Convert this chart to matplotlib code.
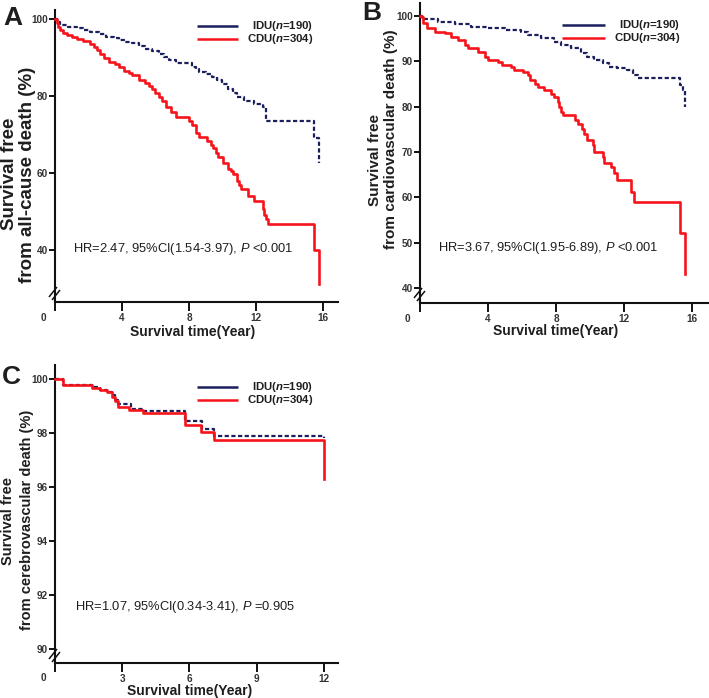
import matplotlib
matplotlib.use("Agg")
import matplotlib.pyplot as plt
from matplotlib.lines import Line2D

plt.rcParams['font.family'] = ['Liberation Sans', 'DejaVu Sans']
plt.rcParams['mathtext.fontset'] = 'custom'
plt.rcParams['mathtext.rm'] = 'Liberation Sans'
plt.rcParams['mathtext.it'] = 'Liberation Sans:italic'
plt.rcParams['mathtext.bf'] = 'Liberation Sans:bold'
plt.rcParams['mathtext.bfit'] = 'Liberation Sans:italic:bold'

# ---------------- data (Kaplan-Meier step curves) ----------------
# Panel A: all-cause death
A_idu_t = [0, 0.1, 0.3, 0.8, 1.3, 1.7, 2.1, 2.6, 3.05, 3.5, 3.85, 4.2, 4.6, 5.0, 5.4, 5.8,
           6.2, 6.5, 6.8, 7.2, 8.2, 8.4, 8.6, 9.0, 9.4, 9.7, 9.95, 10.35, 10.6, 10.85, 11.3,
           11.9, 12.4, 12.6, 15.45, 15.75]
A_idu_s = [100, 99.3, 98.4, 98.0, 97.6, 97.2, 96.7, 96.1, 95.4, 95.0, 94.5, 94.1, 93.7, 93.0,
           92.3, 91.7, 91.0, 90.2, 89.3, 88.6, 87.6, 86.9, 86.3, 85.7, 85.0, 84.1, 83.2, 81.9,
           80.8, 79.7, 78.8, 78.0, 77.1, 73.6, 69.1, 62.5]
A_cdu_t = [0, 0.1, 0.2, 0.3, 0.5, 0.7, 1.0, 1.3, 1.7, 2.1, 2.3, 2.5, 2.7, 2.9, 3.25, 3.6, 3.85,
           4.1, 4.4, 4.6, 5.0, 5.4, 5.6, 5.8, 6.0, 6.2, 6.4, 6.6, 6.9, 7.2, 8.0, 8.2, 8.4, 8.6,
           9.1, 9.3, 9.45, 9.6, 9.75, 10.05, 10.35, 10.5, 10.65, 10.85, 11.0, 11.1, 11.5, 11.9,
           12.4, 12.5, 12.6, 12.7, 15.45, 15.75]
A_cdu_s = [100, 99, 98, 97, 96.3, 95.7, 95.2, 94.8, 94.3, 93.5, 92.7, 91.8, 90.8, 89.8, 88.9,
           88.2, 87.6, 86.5, 85.9, 85.3, 84.2, 83.3, 82.6, 81.7, 80.8, 79.8, 78.6, 77.2, 75.9,
           74.6, 73.6, 72.5, 70.4, 69.3, 68.2, 67.3, 66.4, 65.3, 64.2, 62.7, 61.1, 60.4, 59.6,
           58.0, 56.8, 55.8, 54.1, 52.6, 50.6, 49.2, 48.0, 46.8, 40.0, 31.2]

# Panel B: cardiovascular death
B_idu_t = [0, 0.1, 1.07, 2.05, 3.0, 4.0, 5.0, 5.95, 6.35, 7.1, 7.9, 8.3, 8.9, 9.45, 9.85,
           10.25, 10.75, 11.1, 11.6, 12.2, 12.5, 12.8, 15.3, 15.45, 15.6]
B_idu_s = [100, 99.3, 98.8, 98.2, 97.6, 97.3, 96.9, 96.5, 95.8, 95.1, 94.3, 93.6, 92.9, 91.9,
           91.0, 90.3, 89.6, 88.8, 88.5, 88.1, 87.0, 86.3, 84.8, 83.7, 80.0]
B_cdu_t = [0, 0.1, 0.2, 0.4, 0.9, 1.45, 1.85, 2.25, 2.65, 2.85, 3.4, 3.8, 4.0, 4.6, 4.8, 5.35,
           5.55, 6.05, 6.35, 6.45, 6.75, 6.95, 7.3, 7.7, 7.9, 8.1, 8.2, 8.3, 8.4, 9.1, 9.3, 9.5,
           9.65, 9.85, 10.15, 10.25, 10.75, 10.85, 11.25, 11.4, 11.6, 12.4, 12.6, 15.3, 15.6]
B_cdu_s = [100, 99.9, 98.4, 97.3, 96.5, 96.2, 95.4, 94.7, 93.6, 92.9, 92.1, 91.0, 90.3, 89.9,
           89.2, 88.8, 88.1, 87.7, 87.0, 85.9, 85.1, 84.4, 83.7, 82.9, 82.2, 81.1, 80.0, 78.9,
           78.2, 77.1, 76.3, 75.2, 74.1, 72.6, 71.5, 70.0, 69.0, 67.5, 66.8, 65.3, 63.8, 61.2,
           59.0, 52.1, 43.2]

# Panel C: cerebrovascular death
C_idu_t = [0, 0.37, 1.64, 2.01, 2.31, 2.53, 2.68, 2.83, 3.37, 3.92, 5.81, 6.56, 7.08, 12.0]
C_idu_s = [100, 99.78, 99.69, 99.6, 99.53, 99.41, 99.23, 99.08, 98.9, 98.82, 98.43, 98.15,
           97.9, 97.82]
C_cdu_t = [0, 0.37, 1.64, 2.01, 2.31, 2.53, 2.68, 2.83, 3.32, 3.92, 5.81, 6.53, 7.08, 12.0]
C_cdu_s = [100, 99.78, 99.66, 99.6, 99.51, 99.35, 99.2, 98.96, 98.86, 98.74, 98.28, 98.02,
           97.75, 96.28]

A_xticks = [0, 4, 8, 12, 16]
A_yticks = [40, 60, 80, 100]
B_xticks = [0, 4, 8, 12, 16]
B_yticks = [40, 50, 60, 70, 80, 90, 100]
C_xticks = [0, 3, 6, 9, 12]
C_yticks = [90, 92, 94, 96, 98, 100]

legend_labels = [r'IDU($\mathbfit{n}$=190)', r'CDU($\mathbfit{n}$=304)']
A_hr = r'HR=2.47, 95%CI(1.54-3.97), $\mathit{P}$ <0.001'
B_hr = r'HR=3.67, 95%CI(1.95-6.89), $\mathit{P}$ <0.001'
C_hr = r'HR=1.07, 95%CI(0.34-3.41), $\mathit{P}$ =0.905'
A_ylab = ['Survival free', 'from all-cause death (%)']
B_ylab = ['Survival free', 'from cardiovascular death (%)']
C_ylab = ['Survival free', 'from cerebrovascular death (%)']
xlab = 'Survival time(Year)'

# ---------------- figure ----------------
W, H = 709, 698
fig = plt.figure(figsize=(W / 100, H / 100), dpi=100)
fig.patch.set_facecolor('white')

NAVY = '#1b1f5c'
RED = '#f7131b'
TXT = '#1e1e1e'
TICK_FS = 7.2


def fx(x):
    return x / W


def fy(y):
    return 1 - y / H


def fline(x0, y0, x1, y1, color, lw, **kw):
    fig.add_artist(Line2D([fx(x0), fx(x1)], [fy(y0), fy(y1)], transform=fig.transFigure,
                          color=color, lw=lw, solid_capstyle='butt', **kw))


def panel(box, xlim, ylim, xticks, yticks, idu, cdu, letter, ylab, hr, cfg):
    x0, x1, y0, y1 = box
    ax = fig.add_axes([fx(x0), fy(y1), (x1 - x0) / W, (y1 - y0) / H])
    ax.set_xlim(*xlim)
    ax.set_ylim(*ylim)
    ax.step(idu[0], idu[1], where='post', color=NAVY, lw=1.6, dashes=(1.9, 1.1),
            zorder=2, clip_on=False)
    ax.step(cdu[0], cdu[1], where='post', color=RED, lw=1.9, zorder=3, clip_on=False)
    for s in ['top', 'right']:
        ax.spines[s].set_visible(False)
    for s in ['left', 'bottom']:
        ax.spines[s].set_linewidth(1.5)
        ax.spines[s].set_color('#111111')
    ax.set_xticks(xticks)
    ax.set_xticklabels([''] + [str(v) for v in xticks[1:]])
    ax.set_yticks(yticks)
    ax.set_yticklabels([str(v) for v in yticks])
    ax.tick_params(axis='x', direction='out', length=6.6, width=1.4, pad=1.2,
                   labelsize=TICK_FS, labelcolor='#333333', color='#111111')
    ax.tick_params(axis='y', direction='out', length=4.3, width=1.4, pad=1.0,
                   labelsize=TICK_FS, labelcolor='#333333', color='#111111')
    for lab in ax.get_xticklabels() + ax.get_yticklabels():
        lab.set_fontweight('bold')
    # origin "0" label
    zx, zy = cfg['zero']
    fig.text(fx(zx), fy(zy), '0', ha='center', va='center', fontsize=TICK_FS,
             fontweight='bold', color='#333333')
    # axis break marks
    bx, by = x0, cfg['brk']
    fline(bx - 6, by + 4, bx + 2, by - 6, '#111111', 1.1)
    fline(bx - 3, by + 7, bx + 5, by - 3, '#111111', 1.1)
    # labels
    lx, ly = cfg['letter']
    fig.text(fx(lx), fy(ly), letter, ha='center', va='center', fontsize=19,
             fontweight='bold', color=TXT)
    (l1x, l1y), (l2x, l2y) = cfg['ylab']
    fig.text(fx(l1x), fy(l1y), ylab[0], rotation=90, ha='center', va='center',
             fontsize=cfg['ylsize'], fontweight='bold', color=TXT)
    fig.text(fx(l2x), fy(l2y), ylab[1], rotation=90, ha='center', va='center',
             fontsize=cfg['ylsize'], fontweight='bold', color=TXT)
    xlx, xly = cfg['xlab']
    fig.text(fx(xlx), fy(xly), xlab, ha='center', va='center', fontsize=10,
             fontweight='bold', color=TXT)
    hx, hy = cfg['hr']
    fig.text(fx(hx), fy(hy), hr, ha='left', va='center', fontsize=9.3, color=TXT)
    # legend
    gx0, gx1, gy1, gy2, tr = cfg['legend']
    fline(gx0, gy1, gx1, gy1, NAVY, 1.8)
    fline(gx0, gy2, gx1, gy2, RED, 1.8)
    fig.text(fx(tr), fy(gy1), legend_labels[0], ha='right', va='center', fontsize=8.2,
             fontweight='bold', color=TXT)
    fig.text(fx(tr), fy(gy2), legend_labels[1], ha='right', va='center', fontsize=8.2,
             fontweight='bold', color=TXT)
    return ax


panel((55, 338, 10, 302), (0, 16.9), (26.5, 102.3), A_xticks, A_yticks,
      (A_idu_t, A_idu_s), (A_cdu_t, A_cdu_s), 'A', A_ylab, A_hr,
      dict(zero=(43, 318), brk=293, letter=(12.5, 18), ylab=((10, 174), (27, 175)),
           ylsize=13.5, xlab=(193, 332), hr=(73, 249), legend=(197, 238, 26, 39, 313)))

panel((420, 708, 3, 303), (0, 16.94), (36.7, 102.9), B_xticks, B_yticks,
      (B_idu_t, B_idu_s), (B_cdu_t, B_cdu_s), 'B', B_ylab, B_hr,
      dict(zero=(407, 319), brk=294, letter=(371.5, 13.5), ylab=((375, 160), (391, 139)),
           ylsize=11, xlab=(556, 331), hr=(438, 248), legend=(562, 605, 25, 38, 680)))

panel((55, 338, 365, 663), (0, 12.63), (89.48, 100.52), C_xticks, C_yticks,
      (C_idu_t, C_idu_s), (C_cdu_t, C_cdu_s), 'C', C_ylab, C_hr,
      dict(zero=(43, 678), brk=655, letter=(11.5, 376.5), ylab=((8, 521), (27, 520)),
           ylsize=10.5, xlab=(190, 691), hr=(75, 607), legend=(197, 238, 387, 400, 313)))

fig.savefig('out.png', dpi=100, facecolor='white')
